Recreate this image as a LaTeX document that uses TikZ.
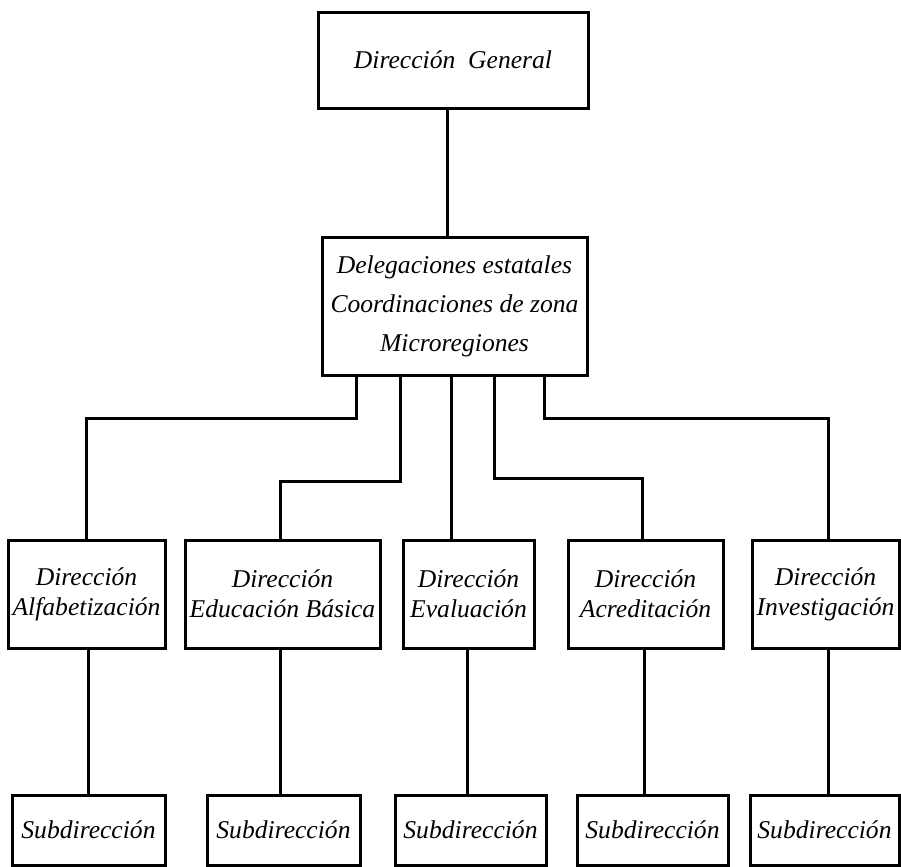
\documentclass[tikz,border=0pt]{standalone}
\usepackage{fontspec}
\setmainfont{Liberation Serif}

\tikzset{
	caja/.style={draw, line width=1.5pt, align=center, inner sep=0pt,
		font=\fontsize{12.8}{15}\selectfont\itshape},
	linea/.style={line width=1.5pt}
}

\begin{document}
\begin{tikzpicture}[x = 0.5pt, y = -0.5pt]
	\useasboundingbox (0,0) rectangle (901,867);
	% cabeza
	\node[caja, minimum width=135pt, minimum height=48pt] (gen) at (453,60) {Direcci\'on\ \ General};
	\node[caja, minimum width=132.5pt, minimum height=69pt, font=\fontsize{12.8}{19.5}\selectfont\itshape] (deleg) at (454.5,306) {Delegaciones estatales\\Coordinaciones de zona\\Microregiones};
	% direcciones
	\node[caja, minimum width=78.5pt, minimum height=54pt] (alf) at (86.5,594) {Direcci\'on\\Alfabetizaci\'on};
	\node[caja, minimum width=97.5pt, minimum height=54pt] (edu) at (282.5,594) {Direcci\'on\\Educaci\'on B\'asica};
	\node[caja, minimum width=65.5pt, minimum height=54pt] (eva) at (468.5,594) {Direcci\'on\\Evaluaci\'on};
	\node[caja, minimum width=77.5pt, minimum height=54pt] (acr) at (645.5,594) {Direcci\'on\\Acreditaci\'on};
	\node[caja, minimum width=73.5pt, minimum height=54pt] (inv) at (825.5,594) {Direcci\'on\\Investigaci\'on};
	% subdirecciones
	\node[caja, minimum width=76.5pt, minimum height=35pt] (sub1) at (88.5,830) {Subdirecci\'on};
	\node[caja, minimum width=76.5pt, minimum height=35pt] (sub2) at (283.5,830) {Subdirecci\'on};
	\node[caja, minimum width=75.5pt, minimum height=35pt] (sub3) at (470.5,830) {Subdirecci\'on};
	\node[caja, minimum width=75.5pt, minimum height=35pt] (sub4) at (652.5,830) {Subdirecci\'on};
	\node[caja, minimum width=74.5pt, minimum height=35pt] (sub5) at (824.5,830) {Subdirecci\'on};

	\draw[linea] ([xshift=-3pt]gen.south) -- ([xshift=-3pt]gen.south |- deleg.north);
	\draw[linea] ([xshift=-49pt]deleg.south) -- ++(0,42) -| (alf.north);
	\draw[linea] ([xshift=-27pt]deleg.south) -- ++(0,105) -| ([xshift=-1pt]edu.north);
	\draw[linea] ([xshift=-1.75pt]deleg.south) -- ([xshift=-1.75pt]deleg.south |- eva.north);
	\draw[linea] ([xshift=20pt]deleg.south) -- ++(0,102) -| ([xshift=-1.5pt]acr.north);
	\draw[linea] ([xshift=45pt]deleg.south) -- ++(0,42) -| ([xshift=1.5pt]inv.north);
	% \draw[linea] (gen.east) -- (deleg.east);
	\draw[linea] ([xshift=0.75pt]alf.south) -- ([xshift=0.75pt]alf.south |- sub1.north);
	\draw[linea] ([xshift=-1pt]edu.south) -- ([xshift=-1pt]edu.south |- sub2.north);
	\draw[linea] ([xshift=-0.75pt]eva.south) -- ([xshift=-0.75pt]eva.south |- sub3.north);
	\draw[linea] ([xshift=-0.75pt]acr.south) -- ([xshift=-0.75pt]acr.south |- sub4.north);
	\draw[linea] ([xshift=1.25pt]inv.south) -- ([xshift=1.25pt]inv.south |- sub5.north);
\end{tikzpicture}
\end{document}
